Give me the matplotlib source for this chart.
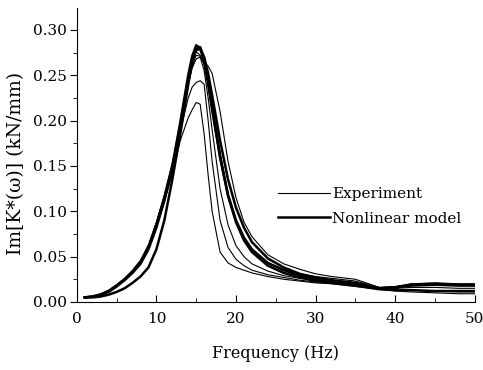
import matplotlib.pyplot as plt
from matplotlib.ticker import MultipleLocator

plt.rcParams['font.family'] = ['DejaVu Serif']

# frequency grid (Hz)
freq = [1, 2, 3, 4, 5, 6, 7, 8, 9, 10, 11, 12, 13, 14, 14.5, 15, 15.5, 16, 16.5, 17,
        18, 19, 20, 21, 22, 24, 26, 28, 30, 32, 35, 38, 40, 42, 45, 48, 50]

# experiment curves (thin)
exp_1 = [0.005, 0.006, 0.008, 0.011, 0.017, 0.024, 0.032, 0.042, 0.058, 0.082, 0.110, 0.142, 0.178, 0.203, 0.212, 0.220, 0.218, 0.185, 0.140, 0.100,
         0.055, 0.043, 0.038, 0.035, 0.032, 0.028, 0.025, 0.023, 0.021, 0.020, 0.017, 0.014, 0.012, 0.011, 0.010, 0.009, 0.009]
exp_2 = [0.005, 0.006, 0.008, 0.012, 0.018, 0.025, 0.033, 0.044, 0.060, 0.085, 0.113, 0.148, 0.188, 0.225, 0.237, 0.242, 0.244, 0.240, 0.200, 0.155,
         0.090, 0.060, 0.047, 0.040, 0.035, 0.030, 0.027, 0.024, 0.022, 0.021, 0.019, 0.015, 0.014, 0.013, 0.012, 0.011, 0.011]
exp_3 = [0.005, 0.006, 0.008, 0.012, 0.018, 0.025, 0.034, 0.045, 0.062, 0.087, 0.116, 0.150, 0.192, 0.240, 0.258, 0.268, 0.270, 0.255, 0.225, 0.190,
         0.125, 0.085, 0.062, 0.050, 0.042, 0.034, 0.029, 0.026, 0.024, 0.022, 0.020, 0.015, 0.015, 0.016, 0.016, 0.015, 0.015]
exp_4 = [0.005, 0.006, 0.009, 0.013, 0.019, 0.026, 0.035, 0.046, 0.063, 0.088, 0.118, 0.153, 0.195, 0.245, 0.265, 0.276, 0.272, 0.265, 0.260, 0.252,
         0.210, 0.155, 0.115, 0.088, 0.072, 0.052, 0.042, 0.036, 0.031, 0.028, 0.025, 0.016, 0.017, 0.020, 0.021, 0.020, 0.020]
exp_5 = [0.005, 0.006, 0.008, 0.011, 0.017, 0.024, 0.032, 0.042, 0.058, 0.083, 0.112, 0.147, 0.190, 0.240, 0.260, 0.272, 0.271, 0.262, 0.242, 0.218,
         0.165, 0.118, 0.088, 0.068, 0.056, 0.043, 0.036, 0.031, 0.028, 0.026, 0.023, 0.016, 0.016, 0.019, 0.020, 0.019, 0.018]

# nonlinear model curves (thick)
mod_1 = [0.005, 0.006, 0.008, 0.012, 0.018, 0.025, 0.033, 0.043, 0.060, 0.085, 0.115, 0.150, 0.198, 0.250, 0.271, 0.283, 0.280, 0.265, 0.240, 0.212,
         0.160, 0.118, 0.090, 0.071, 0.058, 0.043, 0.035, 0.029, 0.025, 0.023, 0.020, 0.015, 0.016, 0.019, 0.020, 0.019, 0.019]
mod_2 = [0.005, 0.006, 0.008, 0.011, 0.017, 0.024, 0.032, 0.042, 0.058, 0.082, 0.112, 0.147, 0.194, 0.245, 0.266, 0.278, 0.279, 0.270, 0.252, 0.228,
         0.178, 0.135, 0.104, 0.082, 0.066, 0.048, 0.038, 0.031, 0.027, 0.024, 0.021, 0.015, 0.016, 0.018, 0.019, 0.018, 0.018]
mod_3 = [0.005, 0.005, 0.006, 0.008, 0.011, 0.015, 0.021, 0.028, 0.038, 0.058, 0.090, 0.135, 0.185, 0.240, 0.265, 0.280, 0.281, 0.268, 0.245, 0.215,
         0.160, 0.117, 0.088, 0.068, 0.055, 0.040, 0.032, 0.027, 0.023, 0.021, 0.018, 0.014, 0.013, 0.013, 0.012, 0.012, 0.012]

experiments = [exp_1, exp_2, exp_3, exp_4, exp_5]
models = [mod_1, mod_2, mod_3]

fig = plt.figure(figsize=(4.83, 3.70), dpi=100)
ax = fig.add_axes([0.159, 0.184, 0.824, 0.794])

for i, ys in enumerate(experiments):
    ax.plot(freq, ys, color='black', lw=0.8, solid_joinstyle='round',
            label='Experiment' if i == 0 else None)
for i, ys in enumerate(models):
    ax.plot(freq, ys, color='black', lw=1.8, solid_joinstyle='round',
            label='Nonlinear model' if i == 0 else None)

ax.set_xlim(0, 50)
ax.set_ylim(0, 0.324)
ax.xaxis.set_major_locator(MultipleLocator(10))
ax.xaxis.set_minor_locator(MultipleLocator(5))
ax.yaxis.set_major_locator(MultipleLocator(0.05))
ax.yaxis.set_minor_locator(MultipleLocator(0.025))
ax.yaxis.set_major_formatter(plt.FormatStrFormatter('%.2f'))
ax.tick_params(axis='x', which='both', direction='in', labelsize=11, pad=7)
ax.tick_params(axis='y', which='both', direction='out', labelsize=11, pad=2)
ax.tick_params(which='major', length=5)
ax.tick_params(which='minor', length=3)
ax.spines['top'].set_visible(False)
ax.spines['right'].set_visible(False)

ax.set_xlabel('Frequency (Hz)', fontsize=11.5, labelpad=14)
ax.set_ylabel('Im[K*(ω)] (kN/mm)', fontsize=13.5)
ax.yaxis.set_label_coords(-0.13, 0.47)

ax.legend(loc='center left', bbox_to_anchor=(0.47, 0.325), frameon=False,
          fontsize=11, handlelength=3.4, handletextpad=0.15, labelspacing=0.7)

fig.savefig('out.png', dpi=100)
